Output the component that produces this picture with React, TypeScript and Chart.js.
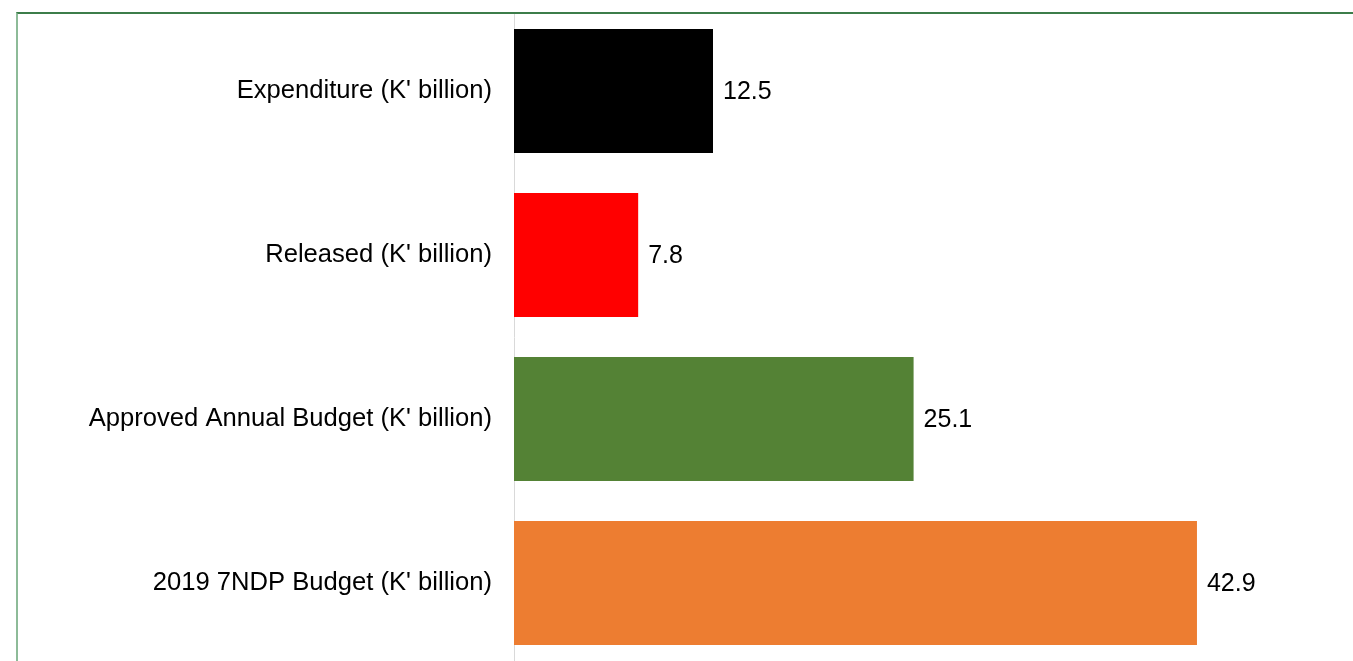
import React, { useEffect, useRef } from "react";
import { Chart, registerables } from "chart.js";

Chart.register(...registerables);

const categories = [
  "Expenditure (K' billion)",
  "Released (K' billion)",
  "Approved Annual Budget (K' billion)",
  "2019 7NDP Budget (K' billion)",
];
const values = [12.5, 7.8, 25.1, 42.9];
const barColors = ["#000000", "#ff0000", "#548235", "#ed7d31"];
const valueLabels = ["12.5", "7.8", "25.1", "42.9"];

const FONT = "'Liberation Sans', Arial, sans-serif";

const valueLabelPlugin = {
  id: "valueLabels",
  afterDatasetsDraw(chart: any) {
    const ctx = chart.ctx;
    const meta = chart.getDatasetMeta(0);
    ctx.save();
    ctx.font = `25px ${FONT}`;
    ctx.fillStyle = "#000000";
    ctx.textAlign = "left";
    ctx.textBaseline = "middle";
    meta.data.forEach((bar: any, i: number) => {
      ctx.fillText(valueLabels[i], bar.x + 10, bar.y + 1);
    });
    ctx.restore();
  },
};

export default function App() {
  const ref = useRef<HTMLCanvasElement | null>(null);
  useEffect(() => {
    document.body.style.margin = "0";
    document.body.style.overflow = "hidden";
    const chart = new Chart(ref.current!, {
      type: "bar",
      data: {
        labels: categories,
        datasets: [
          {
            data: values,
            backgroundColor: barColors,
            borderWidth: 0,
            categoryPercentage: 1,
            barPercentage: 124 / 164,
          },
        ],
      },
      options: {
        indexAxis: "y",
        animation: false,
        responsive: false,
        maintainAspectRatio: false,
        layout: { padding: { top: 9, bottom: 15, left: 0, right: 43 } },
        plugins: { legend: { display: false }, tooltip: { enabled: false }, title: { display: false } },
        scales: {
          x: { display: false, min: 0, max: 50 },
          y: {
            afterFit(scale: any) {
              scale.width = 514;
              scale.paddingTop = 0;
              scale.paddingBottom = 0;
            },
            grid: { display: false, drawTicks: false },
            border: { display: true, color: "#d9d9d9", width: 1 },
            ticks: {
              padding: 22,
              color: "#000000",
              font: { family: FONT, size: 25.6 },
            },
          },
        },
      },
      plugins: [valueLabelPlugin],
    });
    return () => chart.destroy();
  }, []);
  return (
    <div>
      <canvas
        ref={ref}
        width={1353}
        height={680}
        style={{ position: "fixed", left: 0, top: 0, width: 1353, height: 680 }}
      />
      <div
        style={{
          position: "fixed",
          left: 0,
          top: 0,
          width: 1353,
          height: 13,
          background: "#ffffff",
        }}
      />
      <div
        style={{
          position: "fixed",
          left: 16,
          top: 12,
          width: 2000,
          height: 2000,
          borderTop: "2px solid #3c7d4a",
          borderLeft: "2px solid #8dbb98",
          boxSizing: "border-box",
        }}
      />
    </div>
  );
}
